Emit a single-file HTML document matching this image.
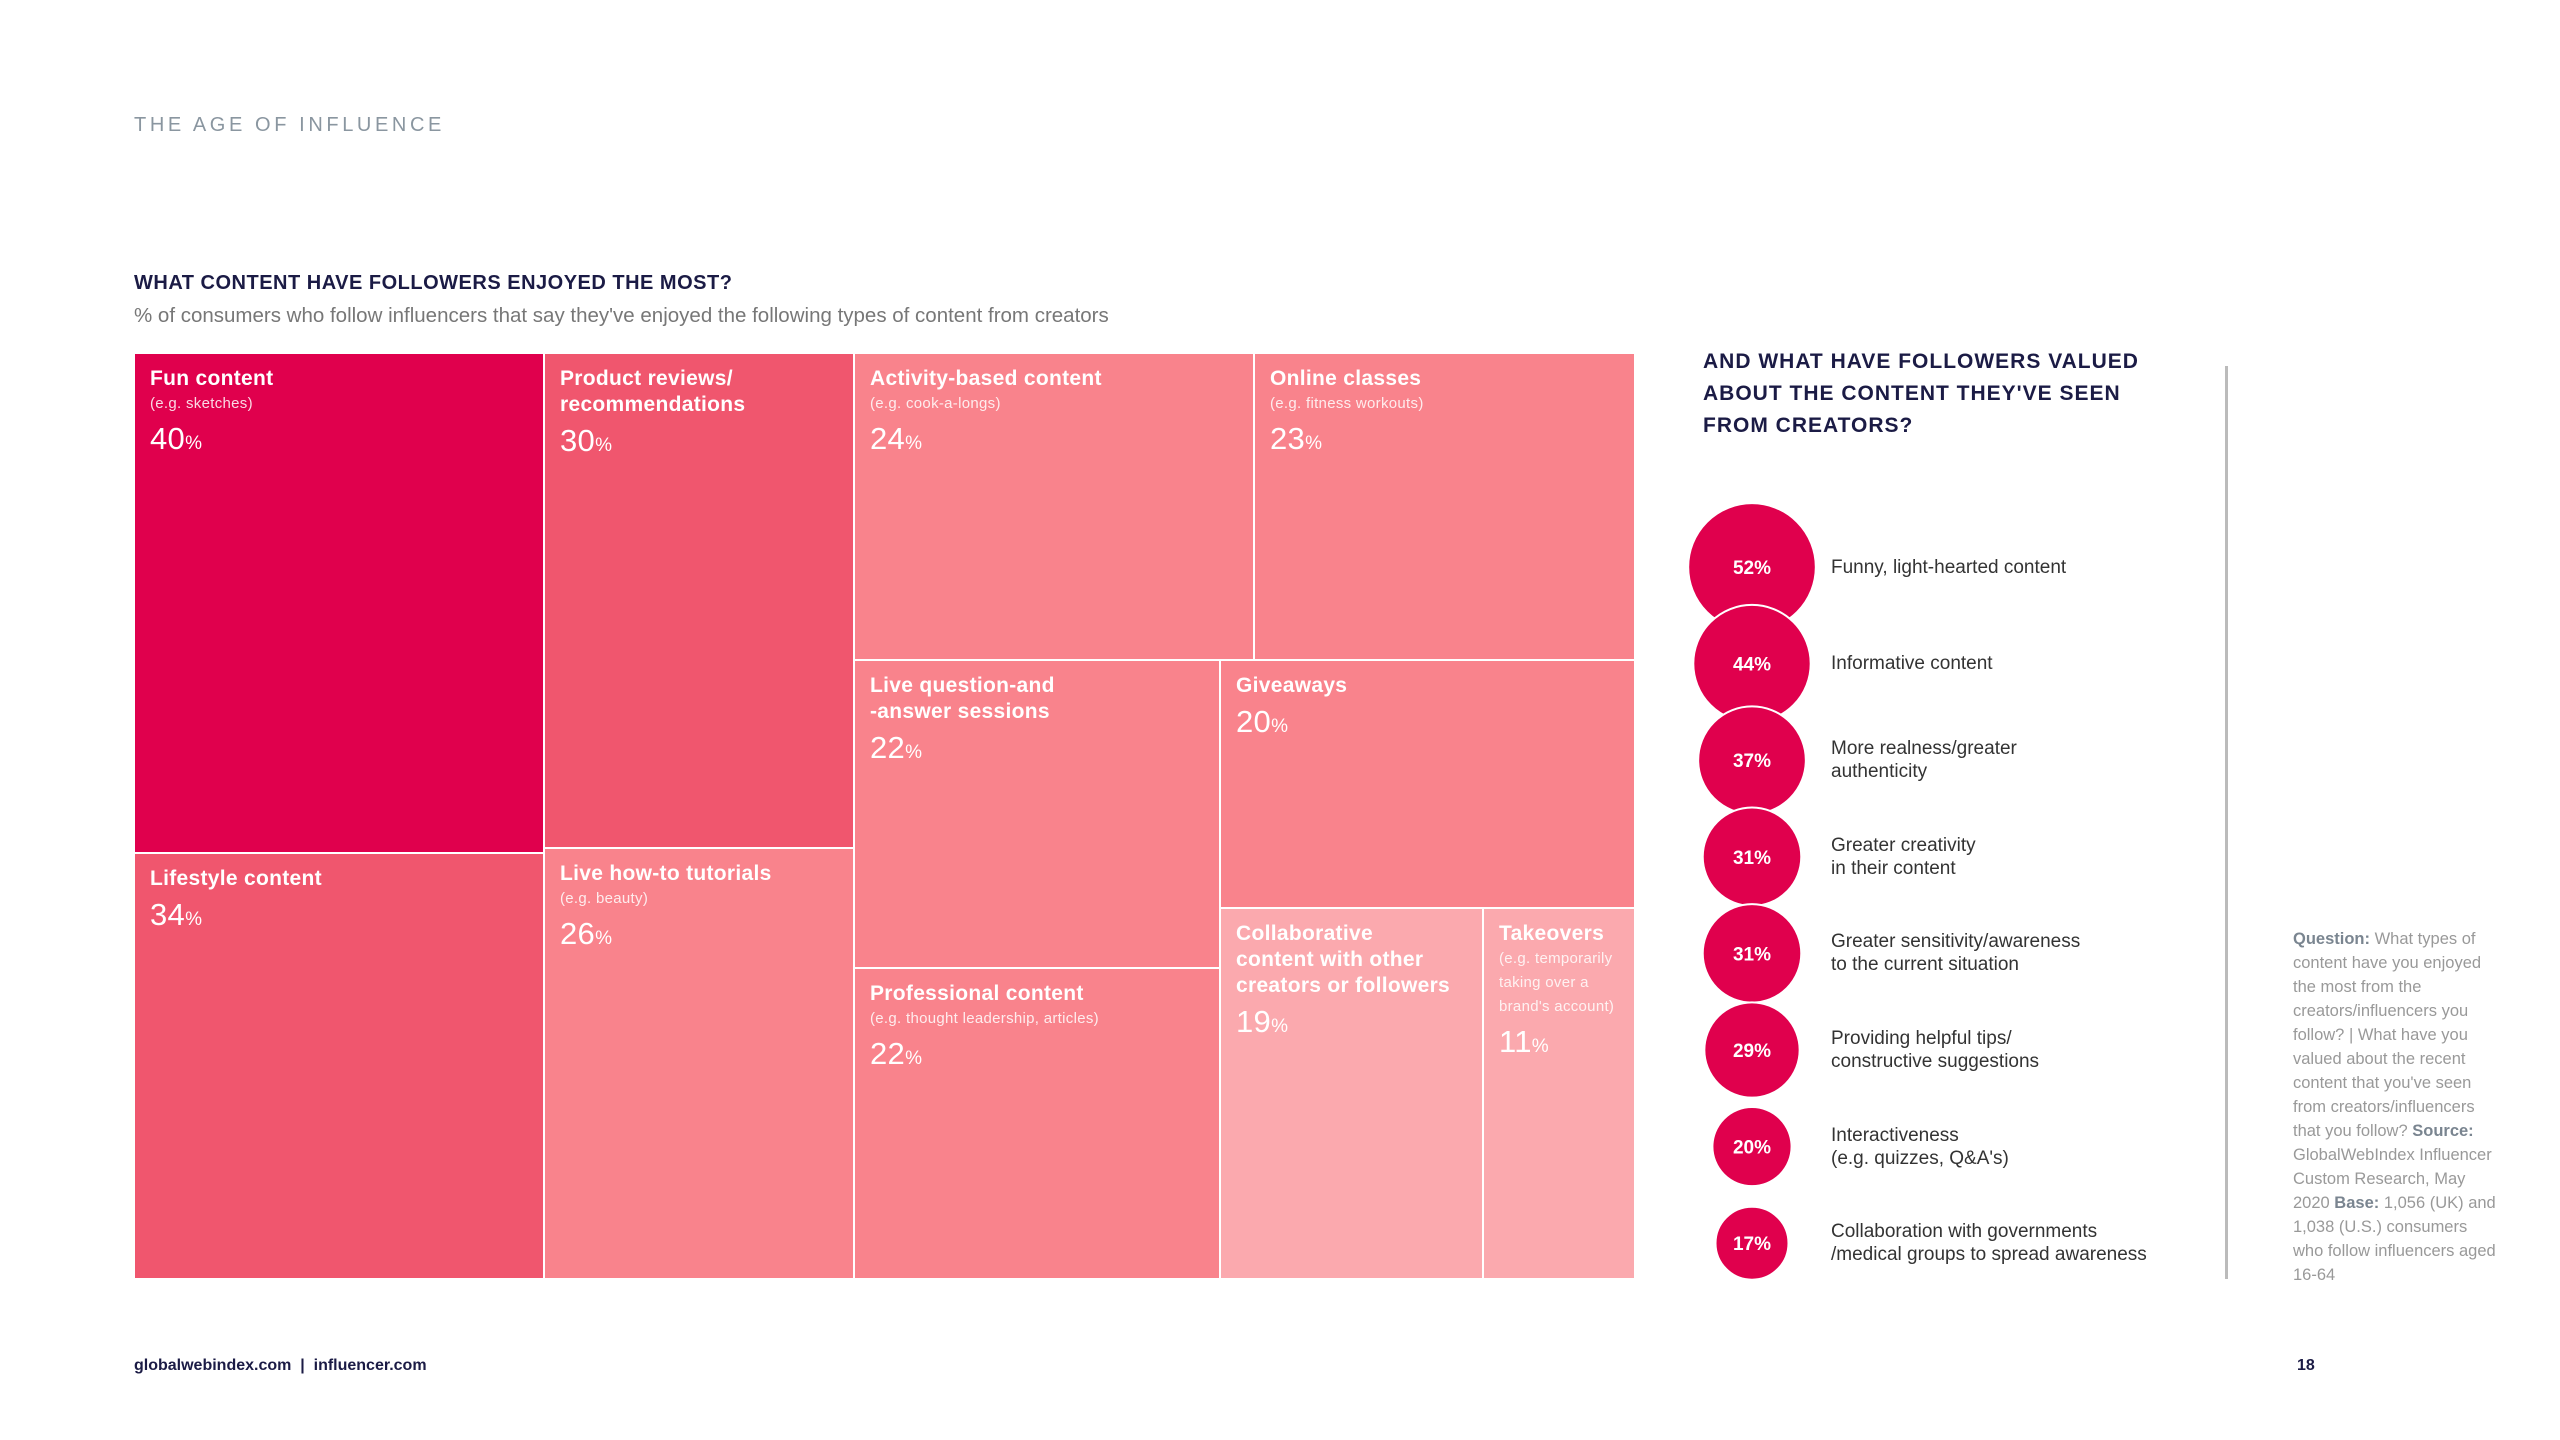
<!DOCTYPE html>
<html><head><meta charset="utf-8"><style>
body{margin:0;width:2560px;height:1440px;background:#fff;position:relative;overflow:hidden;font-family:"Liberation Sans",sans-serif}
.abs{position:absolute}
.cell{position:absolute;box-sizing:border-box;border:1.5px solid #fff;color:#fff}
.cell .t{position:absolute;left:15px;top:12px;font-weight:bold;font-size:21px;line-height:26px;letter-spacing:0.3px}
.cell .s{font-weight:normal;font-size:15px;line-height:24px;opacity:.85;display:block}
.cell .v{font-size:31px;margin-top:10px;display:block;font-weight:normal}
.cell .v small{font-size:19px}
</style></head><body>
<div class="abs" style="left:134px;top:114px;font-size:20px;letter-spacing:3.6px;color:#8a96a0">THE AGE OF INFLUENCE</div>
<div class="abs" style="left:134px;top:272px;font-size:20px;font-weight:bold;color:#1b1b45;letter-spacing:.5px">WHAT CONTENT HAVE FOLLOWERS ENJOYED THE MOST?</div>
<div class="abs" style="left:134px;top:304px;font-size:20.5px;color:#777">% of consumers who follow influencers that say they've enjoyed the following types of content from creators</div>
<div id="tree"></div>
<div class="abs" style="left:1703px;top:346px;font-size:21px;font-weight:bold;color:#1b1b45;line-height:32px;letter-spacing:1px">AND WHAT HAVE FOLLOWERS VALUED<br>ABOUT THE CONTENT THEY'VE SEEN<br>FROM CREATORS?</div>
<div class="abs" style="left:2225px;top:366px;width:3px;height:913px;background:#bbb"></div>
<div id="bub"></div>
<div class="abs" style="left:2293px;top:927px;width:205px;font-size:16.5px;line-height:24px;color:#999"><b style="color:#7a8590">Question:</b> What types of content have you enjoyed the most from the creators/influencers you follow? | What have you valued about the recent content that you've seen from creators/influencers that you follow? <b style="color:#7a8590">Source:</b> GlobalWebIndex Influencer Custom Research, May 2020 <b style="color:#7a8590">Base:</b> 1,056 (UK) and 1,038 (U.S.) consumers who follow influencers aged 16-64</div>
<div class="abs" style="left:134px;top:1357px;font-size:16px;font-weight:bold;color:#1b1b45">globalwebindex.com &nbsp;|&nbsp; influencer.com</div>
<div class="abs" style="left:2297px;top:1357px;font-size:16px;font-weight:bold;color:#1b1b45">18</div>
<script>
const treeLabels=["Fun content","Product reviews/<br>recommendations","Activity-based content","Online classes","Lifestyle content","Live how-to tutorials","Live question-and<br>-answer sessions","Giveaways","Professional content","Collaborative<br>content with other<br>creators or followers","Takeovers"];
const treeSubs=["(e.g. sketches)","","(e.g. cook-a-longs)","(e.g. fitness workouts)","","(e.g. beauty)","","","(e.g. thought leadership, articles)","","(e.g. temporarily<br>taking over a<br>brand's account)"];
const treeValues=[40,30,24,23,34,26,22,20,22,19,11];
const bubLabels=["Funny, light-hearted content","Informative content","More realness/greater<br>authenticity","Greater creativity<br>in their content","Greater sensitivity/awareness<br>to the current situation","Providing helpful tips/<br>constructive suggestions","Interactiveness<br>(e.g. quizzes, Q&A's)","Collaboration with governments<br>/medical groups to spread awareness"];
const bubValues=[52,44,37,31,31,29,20,17];
// layout boxes [x,y,w,h]
const L=[[134,353,410,500],[544,353,310,495],[854,353,400,307],[1254,353,381,307],[134,853,410,426],[544,848,310,431],[854,660,366,308],[1220,660,415,248],[854,968,366,311],[1220,908,263,371],[1483,908,152,371]];
function colorFor(v){return v>=40?"#e0004d":v>=30?"#f0566e":v>=20?"#f9838c":"#fba9ae";}
const tree=document.getElementById('tree');
treeValues.forEach((v,i)=>{
  const d=document.createElement('div');d.className='cell';
  
  
  const b=L[i];
  d.style.cssText=`left:${b[0]}px;top:${b[1]}px;width:${b[2]}px;height:${b[3]}px;background:${colorFor(v)}`;
  d.innerHTML=`<div class="t">${treeLabels[i]}${treeSubs[i]?`<span class="s">${treeSubs[i]}</span>`:''}<span class="v">${v}<small>%</small></span></div>`;
  tree.appendChild(d);
});
const bub=document.getElementById('bub');
const cx=1752,y0=567,dy=96.6;
const rScale=v=>8.85*Math.sqrt(v);
let html=`<svg class="abs" style="left:0;top:0" width="2560" height="1440">`;
bubValues.forEach((v,i)=>{
  const cy=y0+i*dy;
  html+=`<circle cx="${cx}" cy="${cy}" r="${rScale(v)}" fill="#e0004d" stroke="#fff" stroke-width="2"/>`;
  html+=`<text x="${cx}" y="${cy+7}" text-anchor="middle" fill="#fff" font-size="19" font-weight="bold" font-family="Liberation Sans">${v}%</text>`;
});
html+=`</svg>`;
bub.innerHTML=html;
bubLabels.forEach((t,i)=>{
  const d=document.createElement('div');d.className='abs';
  
  
  const cy=y0+i*dy;const lines=t.split('<br>').length;
  d.style.cssText=`left:1831px;top:${cy-lines*11.5}px;font-size:19px;line-height:23px;color:#333`;
  d.innerHTML=t;bub.appendChild(d);
});
</script>
</body></html>
